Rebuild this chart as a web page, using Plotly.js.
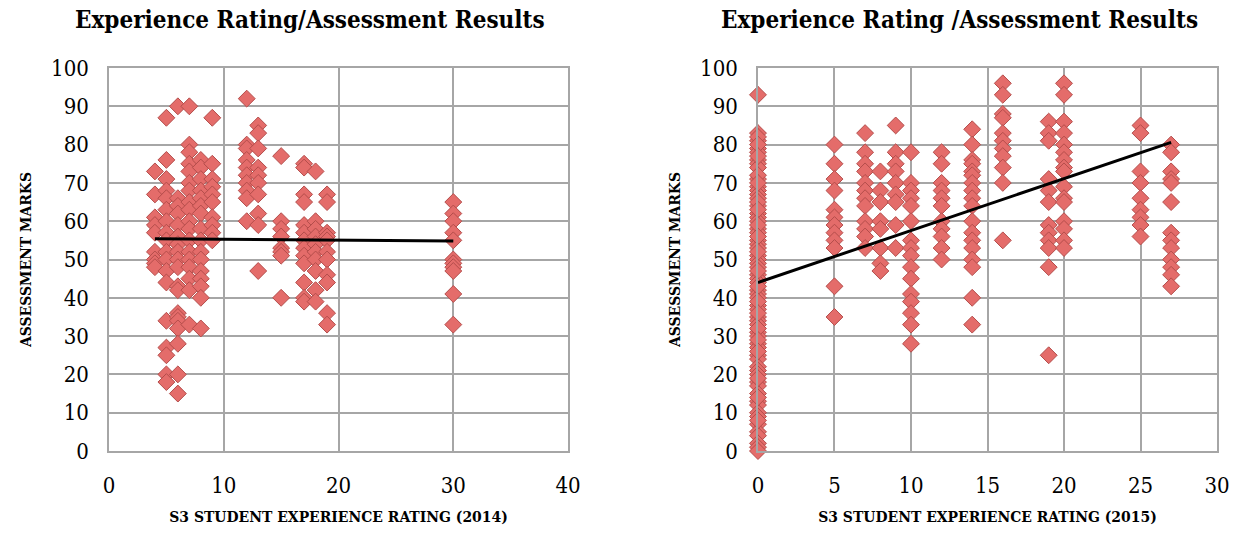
<!DOCTYPE html>
<html>
<head>
<meta charset="utf-8">
<script src="https://cdn.plot.ly/plotly-3.0.1.min.js"></script>
<style>
  html, body { margin: 0; padding: 0; background: #ffffff; }
  #chart { width: 1243px; height: 538px; }
</style>
</head>
<body>
<div id="chart"></div>
<script>
// ---- 2014: experience rating (x) vs assessment marks (y) ----
const rating2014 = [
  4,4,4,4,4,4,4,4,4,
  5,5,5,5,5,5,5,5,5,5,5,5,5,5,5,5,5,5,
  6,6,6,6,6,6,6,6,6,6,6,6,6,6,6,6,6,6,6,
  7,7,7,7,7,7,7,7,7,7,7,7,7,7,7,7,7,7,
  8,8,8,8,8,8,8,8,8,8,8,8,8,8,8,8,
  9,9,9,9,9,9,9,9,9,9,
  12,12,12,12,12,12,12,12,12,12,
  13,13,13,13,13,13,13,13,13,13,
  15,15,15,15,15,15,15,15,
  17,17,17,17,17,17,17,17,17,17,17,17,17,
  18,18,18,18,18,18,18,18,18,18,
  19,19,19,19,19,19,19,19,19,19,19,
  30,30,30,30,30,30,30,30,30,30,30
];
const marks2014 = [
  73,67,61,59,57,52,50,49,48,
  87,76,71,68,66,63,60,57,55,52,50,47,44,34,27,25,20,18,
  90,66,64,62,59,56,54,52,50,48,43,42,36,35,34,32,28,20,15,
  90,80,78,75,73,70,68,65,63,60,58,55,52,50,48,45,42,33,
  76,74,71,68,66,64,62,58,55,52,50,47,45,43,40,32,
  87,75,71,69,67,65,61,59,57,55,
  92,80,79,76,74,72,70,68,66,60,
  85,83,79,74,72,70,67,62,59,47,
  77,60,58,56,53,52,51,40,
  75,74,67,65,59,57,55,53,51,49,44,40,39,
  73,60,58,56,54,52,50,47,42,39,
  67,65,57,56,55,52,50,46,44,36,33,
  65,62,60,57,55,50,49,48,47,41,33
];
// fitted trend line endpoints (2014)
const trendX2014 = [4, 30];
const trendY2014 = [55.4, 54.8];

// ---- 2015 ----
const rating2015 = [
  0,0,0,0,0,0,0,0,0,0,0,0,0,0,0,0,0,0,0,0,0,0,0,0,0,0,0,0,0,0,
  0,0,0,0,0,0,0,0,0,0,0,0,0,0,0,0,0,0,0,0,0,0,0,0,0,0,0,0,0,
  0,0,0,0,0,0,0,0,0,0,0,0,0,0,0,0,0,0,0,0,
  5,5,5,5,5,5,5,5,5,5,5,5,
  7,7,7,7,7,7,7,7,7,7,7,7,
  8,8,8,8,8,8,8,8,
  9,9,9,9,9,9,9,9,9,
  10,10,10,10,10,10,10,10,10,10,10,10,10,10,10,10,
  12,12,12,12,12,12,12,12,12,12,12,
  14,14,14,14,14,14,14,14,14,14,14,14,14,14,14,14,14,14,
  16,16,16,16,16,16,16,16,16,16,16,
  19,19,19,19,19,19,19,19,19,19,19,19,
  20,20,20,20,20,20,20,20,20,20,20,20,20,20,20,20,
  25,25,25,25,25,25,25,25,25,
  27,27,27,27,27,27,27,27,27,27,27,27,27
];
const marks2015 = [
  93,83,81,79,78,76,75,74,71,69,68,67,66,64,62,61,60,58,57,55,54,53,51,50,49,48,46,45,44,42,
  41,40,38,37,35,34,33,31,30,28,27,25,24,22,21,20,18,17,15,13,12,10,9,7,5,4,2,1,0,
  82,80,77,72,70,65,63,59,56,52,47,43,39,36,32,29,26,19,14,8,
  80,75,71,68,63,61,59,57,55,53,43,35,
  83,78,75,73,70,68,66,64,60,58,56,53,
  73,68,65,60,58,53,49,47,
  85,78,75,73,70,67,65,59,53,
  78,70,68,66,64,60,55,53,51,48,45,41,39,36,33,28,
  78,75,70,68,66,64,60,58,56,53,50,
  84,80,76,75,73,72,70,68,66,64,60,57,55,53,50,48,40,33,
  96,93,88,87,83,81,79,77,74,70,55,
  86,83,81,71,68,65,59,57,55,53,48,25,
  96,93,86,83,80,78,76,74,73,69,66,65,60,58,55,53,
  85,83,73,70,66,63,61,59,56,
  80,78,73,71,70,65,57,55,53,50,48,46,43
];
// fitted trend line endpoints (2015)
const trendX2015 = [0, 27];
const trendY2015 = [44, 80.6];

const titleText2014 = 'Experience Rating/Assessment Results';
const titleText2015 = 'Experience Rating /Assessment Results';
const xTitle2014 = 'S3 STUDENT EXPERIENCE RATING (2014)';
const xTitle2015 = 'S3 STUDENT EXPERIENCE RATING (2015)';
const yTitle = 'ASSESSMENT MARKS';

const serif = '"DejaVu Serif Condensed", "Liberation Serif", serif';
const markerStyle = {
  symbol: 'diamond',
  size: 13,
  color: '#e46c6a',
  line: { color: '#b44d4b', width: 1 }
};
const lineStyle = { color: '#000000', width: 3 };

const traces = [
  { type: 'scatter', mode: 'markers', x: rating2014, y: marks2014,
    xaxis: 'x', yaxis: 'y', marker: markerStyle, cliponaxis: false, hoverinfo: 'x+y' },
  { type: 'scatter', mode: 'lines', x: trendX2014, y: trendY2014,
    xaxis: 'x', yaxis: 'y', line: lineStyle, hoverinfo: 'skip' },
  { type: 'scatter', mode: 'markers', x: rating2015, y: marks2015,
    xaxis: 'x2', yaxis: 'y2', marker: markerStyle, cliponaxis: false, hoverinfo: 'x+y' },
  { type: 'scatter', mode: 'lines', x: trendX2015, y: trendY2015,
    xaxis: 'x2', yaxis: 'y2', line: lineStyle, hoverinfo: 'skip' }
];

const gridColor = '#a6a6a6';
const tickFont = { family: serif, size: 22, color: '#000000' };
const axisTitleFont = { family: serif, size: 15.5, color: '#000000', weight: 'bold' };

function xAxis(domain, range, dtick, title, anchor) {
  return {
    domain: domain, range: range, dtick: dtick, tick0: 0, anchor: anchor,
    showgrid: true, gridcolor: gridColor, gridwidth: 1.5,
    showline: true, linecolor: gridColor, linewidth: 1.5, mirror: true,
    zeroline: false, ticks: '', tickfont: tickFont, ticklabelstandoff: 14,
    title: { text: title, font: axisTitleFont, standoff: 14 }
  };
}
function yAxis(domain, anchor) {
  return {
    domain: domain, range: [0, 100], dtick: 10, anchor: anchor,
    showgrid: true, gridcolor: gridColor, gridwidth: 1.5,
    showline: true, linecolor: gridColor, linewidth: 1.5, mirror: true,
    zeroline: false, ticks: '', tickfont: tickFont, ticklabelstandoff: 14,
    title: { text: yTitle, font: axisTitleFont, standoff: 16 }
  };
}

const yDomain = [0.1617, 0.8736];
const layout = {
  width: 1243, height: 538,
  margin: { l: 0, r: 0, t: 0, b: 0 },
  paper_bgcolor: '#ffffff', plot_bgcolor: '#ffffff',
  showlegend: false,
  xaxis: xAxis([0.0877, 0.4570], [0, 40], 10, xTitle2014, 'y'),
  yaxis: yAxis(yDomain, 'x'),
  xaxis2: xAxis([0.6098, 0.9791], [0, 30], 5, xTitle2015, 'y2'),
  yaxis2: yAxis(yDomain, 'x2'),
  annotations: [
    { text: titleText2014, xref: 'paper', yref: 'paper', x: 0.249, y: 0.963,
      xanchor: 'center', yanchor: 'middle', showarrow: false,
      font: { family: serif, size: 24, color: '#000000', weight: 'bold' } },
    { text: titleText2015, xref: 'paper', yref: 'paper', x: 0.772, y: 0.963,
      xanchor: 'center', yanchor: 'middle', showarrow: false,
      font: { family: serif, size: 24, color: '#000000', weight: 'bold' } }
  ]
};

Plotly.newPlot('chart', traces, layout, { displayModeBar: false, responsive: false });
</script>
</body>
</html>
